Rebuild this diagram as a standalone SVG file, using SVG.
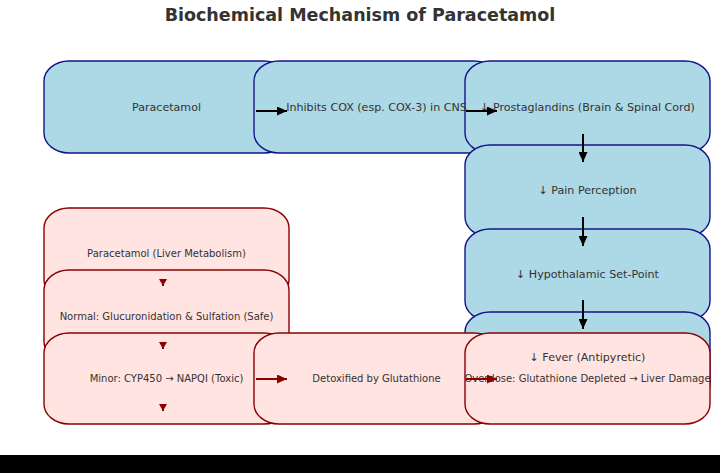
<svg xmlns="http://www.w3.org/2000/svg" width="720" height="473" viewBox="0 0 720 473">
<style>
.blue{fill:#add8e6;stroke:#14148a;stroke-width:1.4}
.red{fill:#ffe4e1;stroke:#8b0000;stroke-width:1.4}
.lb{font-family:"DejaVu Sans",sans-serif;font-size:11.1px;fill:#333;text-anchor:middle;dominant-baseline:central}
.lr{font-family:"DejaVu Sans",sans-serif;font-size:10px;fill:#333;text-anchor:middle;dominant-baseline:central}
.title{font-family:"DejaVu Sans",sans-serif;font-size:17.5px;font-weight:bold;fill:#333;text-anchor:middle}
.ck{fill:none;stroke:#000;stroke-width:2}
.cr{fill:none;stroke:#8b0000;stroke-width:2}
</style>
<defs>
<marker id="ahk" markerUnits="userSpaceOnUse" markerWidth="10" markerHeight="9" refX="10" refY="4.5" orient="auto"><path d="M0,0 L10,4.5 L0,9 z" fill="#000"/></marker>
<marker id="ahr" markerUnits="userSpaceOnUse" markerWidth="10" markerHeight="9" refX="10" refY="4.5" orient="auto"><path d="M0,0 L10,4.5 L0,9 z" fill="#8b0000"/></marker>
<marker id="ahs" markerUnits="userSpaceOnUse" markerWidth="7" markerHeight="8" refX="7" refY="4" orient="auto"><path d="M0,0 L7,4 L0,8 z" fill="#8b0000"/></marker>
</defs>
<rect width="720" height="473" fill="#fff"/>
<text class="title" x="360" y="21">Biochemical Mechanism of Paracetamol</text>
<g id="nodes">
<g id="n-paracetamol"><rect class="blue" x="44" y="61" width="245" height="92" rx="25" ry="20"/></g>
<g id="n-cox"><rect class="blue" x="254" y="61" width="245" height="92" rx="25" ry="20"/></g>
<g id="n-prostaglandins"><rect class="blue" x="465" y="61" width="245" height="92" rx="25" ry="20"/></g>
<g id="n-pain"><rect class="blue" x="465" y="145" width="245" height="92" rx="25" ry="20"/></g>
<g id="n-setpoint"><rect class="blue" x="465" y="229" width="245" height="92" rx="25" ry="20"/></g>
<g id="n-fever"><rect class="blue" x="465" y="312" width="245" height="92" rx="25" ry="20"/></g>
<g id="n-liver"><rect class="red" x="44" y="208" width="245" height="92" rx="25" ry="20"/></g>
<g id="n-normal"><rect class="red" x="44" y="270" width="245" height="92" rx="25" ry="20"/></g>
<g id="n-minor"><rect class="red" x="44" y="333" width="245" height="91" rx="25" ry="20"/></g>
<g id="n-detox"><rect class="red" x="254" y="333" width="245" height="91" rx="25" ry="20"/></g>
<g id="n-overdose"><rect class="red" x="465" y="333" width="245" height="91" rx="25" ry="20"/></g>
</g>
<g id="labels">
<text id="t-paracetamol" class="lb" x="166.5" y="107">Paracetamol</text>
<text id="t-cox" class="lb" x="376.5" y="107">Inhibits COX (esp. COX-3) in CNS</text>
<text id="t-prostaglandins" class="lb" x="587.5" y="107">↓ Prostaglandins (Brain &amp; Spinal Cord)</text>
<text id="t-pain" class="lb" x="587.5" y="190">↓ Pain Perception</text>
<text id="t-setpoint" class="lb" x="587.5" y="274">↓ Hypothalamic Set-Point</text>
<text id="t-fever" class="lb" x="587.5" y="357">↓ Fever (Antipyretic)</text>
<text id="t-liver" class="lr" x="166.5" y="253">Paracetamol (Liver Metabolism)</text>
<text id="t-normal" class="lr" x="166.5" y="316">Normal: Glucuronidation &amp; Sulfation (Safe)</text>
<text id="t-minor" class="lr" x="166.5" y="378">Minor: CYP450 → NAPQI (Toxic)</text>
<text id="t-detox" class="lr" x="376.5" y="378">Detoxified by Glutathione</text>
<text id="t-overdose" class="lr" x="587.5" y="378">Overdose: Glutathione Depleted → Liver Damage</text>
</g>
<g id="connectors">
<path class="ck" d="M256,111 H287" marker-end="url(#ahk)"/>
<path class="ck" d="M466,111 H497" marker-end="url(#ahk)"/>
<path class="ck" d="M583,134 V162" marker-end="url(#ahk)"/>
<path class="ck" d="M583,217 V246" marker-end="url(#ahk)"/>
<path class="ck" d="M583,300 V329" marker-end="url(#ahk)"/>
<path class="cr" d="M163,281 V286" stroke-width="1" marker-end="url(#ahs)"/>
<path class="cr" d="M163,344 V349" stroke-width="1" marker-end="url(#ahs)"/>
<path class="cr" d="M163,406 V411" stroke-width="1" marker-end="url(#ahs)"/>
<path class="cr" d="M256,379 H287" marker-end="url(#ahr)"/>
<path class="cr" d="M466,379 H497" marker-end="url(#ahr)"/>
</g>
<rect x="0" y="455" width="720" height="18" fill="#000"/>
</svg>
